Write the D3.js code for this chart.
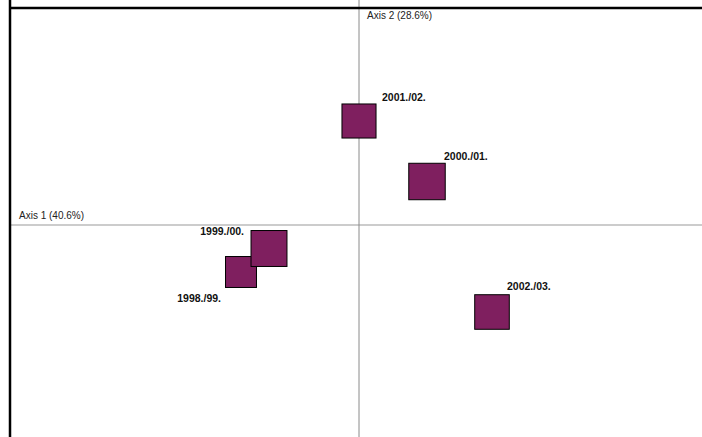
<!DOCTYPE html>
<html>
<head>
<meta charset="utf-8">
<script src="https://cdn.jsdelivr.net/npm/d3@7"></script>
<style>
  body { margin: 0; background: #fff; }
  svg { display: block; font-family: "Liberation Sans", Arial, Helvetica, sans-serif; }
</style>
</head>
<body>
<div id="chart"></div>
<script>
// data: year labels, scores on axis 1 / axis 2, mass (marker size)
const years = ["1998./99.", "1999./00.", "2000./01.", "2001./02.", "2002./03."];
const axis1 = [-1.18, -0.90, 0.68, 0.00, 1.33];
const axis2 = [-0.47, -0.235, 0.435, 1.04, -0.87];
const mass = [18.0, 20.9, 21.2, 19.8, 20.1];
const axisLabels = ["Axis 1 (40.6%)", "Axis 2 (28.6%)"];

// label placement relative to marker centre (layout only)
const labelPos = [
    { dx: -20, dy: 30, anchor: "end" },
    { dx: -25, dy: -13.5, anchor: "end" },
    { dx: 17, dy: -21.5, anchor: "start" },
    { dx: 23, dy: -20, anchor: "start" },
    { dx: 15, dy: -22, anchor: "start" }
];

var width = 702;
var height = 437;
var frame = { left: 10, top: 8 };

const svg = d3.select("#chart")
    .append("svg")
    .attr("width", width)
    .attr("height", height);

// same units on both axes, origin at (359, 225)
var xScale = d3.scaleLinear()
    .domain([0, 1])
    .range([359, 459]);
var yScale = d3.scaleLinear()
    .domain([0, 1])
    .range([225, 125]);
var sizeScale = d3.scaleLinear()
    .domain([0, 20])
    .range([0, 34.4]);

// axes through the origin
svg.append("line")
    .attr("x1", frame.left).attr("x2", width)
    .attr("y1", yScale(0)).attr("y2", yScale(0))
    .attr("stroke", "#9a9a9a")
    .attr("stroke-width", 1.2);
svg.append("line")
    .attr("x1", xScale(0)).attr("x2", xScale(0))
    .attr("y1", 0).attr("y2", height)
    .attr("stroke", "#8a8a8a")
    .attr("stroke-width", 1);

// frame lines
svg.append("line")
    .attr("x1", frame.left).attr("x2", width)
    .attr("y1", frame.top).attr("y2", frame.top)
    .attr("stroke", "#000")
    .attr("stroke-width", 2.5);
svg.append("line")
    .attr("x1", frame.left).attr("x2", frame.left)
    .attr("y1", 0).attr("y2", height)
    .attr("stroke", "#000")
    .attr("stroke-width", 2.5);

// axis titles
svg.append("text")
    .attr("x", 19)
    .attr("y", yScale(0) - 6)
    .attr("font-size", 10)
    .attr("fill", "#222")
    .text(axisLabels[0]);
svg.append("text")
    .attr("x", xScale(0) + 8)
    .attr("y", 19)
    .attr("font-size", 10)
    .attr("fill", "#222")
    .text(axisLabels[1]);

const idx = d3.range(years.length);

svg.append("g")
    .selectAll("rect")
    .data(idx)
    .enter()
    .append("rect")
    .attr("x", function(i){ return xScale(axis1[i]) - sizeScale(mass[i]) / 2; })
    .attr("y", function(i){ return yScale(axis2[i]) - sizeScale(mass[i]) / 2; })
    .attr("width", function(i){ return sizeScale(mass[i]); })
    .attr("height", function(i){ return sizeScale(mass[i]); })
    .attr("fill", "#7f1f5f")
    .attr("stroke", "#000")
    .attr("stroke-width", 1);

svg.append("g")
    .selectAll("text")
    .data(idx)
    .enter()
    .append("text")
    .attr("x", function(i){ return xScale(axis1[i]) + labelPos[i].dx; })
    .attr("y", function(i){ return yScale(axis2[i]) + labelPos[i].dy; })
    .attr("text-anchor", function(i){ return labelPos[i].anchor; })
    .attr("font-size", 10.5)
    .attr("font-weight", "bold")
    .attr("fill", "#111")
    .text(function(i){ return years[i]; });
</script>
</body>
</html>
